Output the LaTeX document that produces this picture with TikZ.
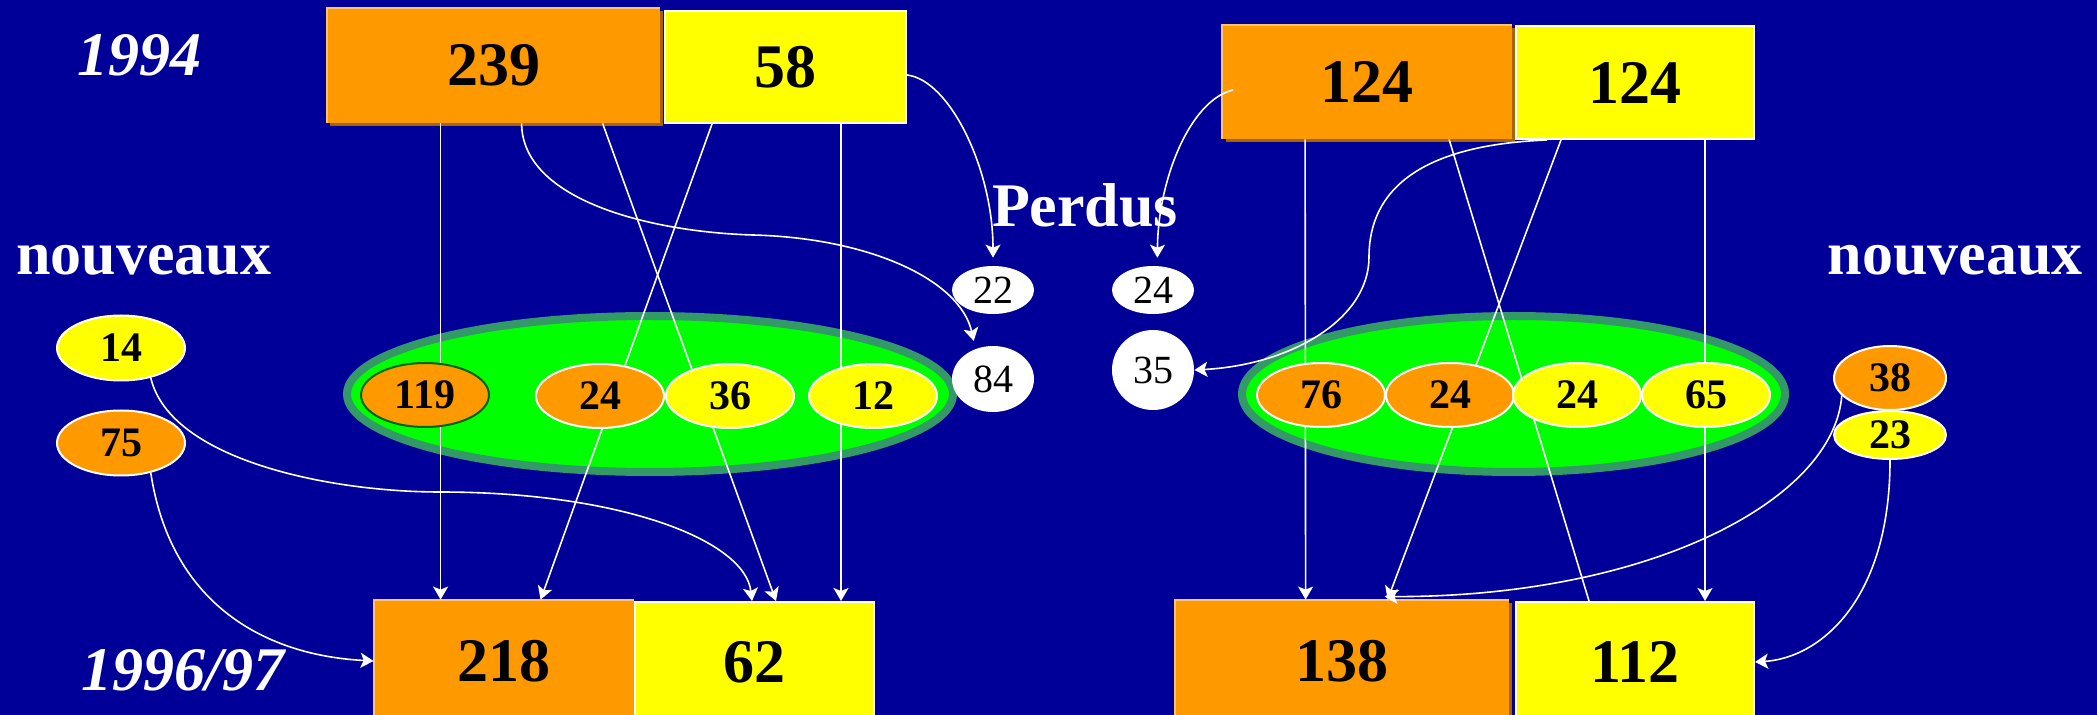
\documentclass[tikz,border=0pt]{standalone}
\usepackage{fontspec}
\setmainfont{Liberation Serif}
\usetikzlibrary{shapes.geometric,arrows.meta,calc,shadows}
\definecolor{bg}{HTML}{000099}
\definecolor{org}{HTML}{FF9900}
\definecolor{orgdark}{HTML}{A86400}
\definecolor{orglight}{HTML}{FFC466}
\definecolor{yel}{HTML}{FFFF00}
\definecolor{grn}{HTML}{00FF00}
\definecolor{grnedge}{HTML}{339966}
\definecolor{darkgrn}{HTML}{006600}
\begin{document}
\begin{tikzpicture}[x=0.5pt,y=-0.5pt,
  bignum/.style={font=\fontsize{31}{31}\selectfont\bfseries, text=black},
  obox/.style={rectangle, fill=org, inner sep=0pt, bignum,
     drop shadow={shadow xshift=1.5pt, shadow yshift=-1.5pt, fill=orgdark, opacity=1}},
  ybox/.style={rectangle, fill=yel, draw=white, line width=1pt, inner sep=0pt, bignum},
  gell/.style={ellipse, fill=grn, draw=grnedge, line width=4pt, inner sep=0pt},
  sell/.style={ellipse, inner sep=0pt, minimum width=64pt, minimum height=32pt,
     line width=1pt, draw=white, text=black, font=\fontsize{21}{21}\selectfont\bfseries},
  oell/.style={sell, fill=org},
  yell/.style={sell, fill=yel},
  well/.style={ellipse, inner sep=0pt, fill=white, text=black, minimum width=41pt,
     font=\fontsize{20}{20}\selectfont},
  lbl/.style={text=white, font=\fontsize{31}{31}\selectfont\bfseries, inner sep=0pt},
  ln/.style={draw=white, line width=0.8pt},
  arr/.style={ln, -{Stealth[length=6.5pt,width=7.5pt,inset=1.5pt]}},
  edgelight/.style={draw=orglight, line width=1pt}
]
\fill[bg] (0,0) rectangle (2097,715);
\useasboundingbox (0,0) rectangle (2097,715);
\clip (0,0) rectangle (2097,715);

% green groups
\node[gell, minimum width=303pt, minimum height=78pt] (gL) at (650,394) {};
\node[gell, minimum width=271.5pt, minimum height=78pt] (gR) at (1513.5,394) {};

% boxes
\node[obox, minimum width=166.5pt, minimum height=57.5pt] (b239) at (493.5,65.5) {239};
\node[ybox, minimum width=120.5pt, minimum height=56pt] (b58) at (785.5,67) {58};
\node[obox, minimum width=144.5pt, minimum height=57pt] (b124o) at (1367,82) {124};
\node[ybox, minimum width=119pt, minimum height=56.5pt] (b124y) at (1635,82.5) {124};
\node[obox, minimum width=130pt, minimum height=61pt] (b218) at (504,661) {218};
\node[ybox, minimum width=119.5pt, minimum height=60pt] (b62) at (754.5,662) {62};
\node[obox, minimum width=167pt, minimum height=61pt] (b138) at (1342,661) {138};
\node[ybox, minimum width=119pt, minimum height=60pt] (b112) at (1635,662) {112};
\foreach \b in {b239,b124o,b218,b138}{
  \draw[edgelight] (\b.south west) -- (\b.north west) -- (\b.north east);
}

% straight flows
\draw[arr] ($(b239.south west)+(114,0)$) -- ($(b218.north west)+(67,0)$);
\draw[arr] ($(b239.south west)+(276,0)$) -- ($(b62.north west)+(142,0)$);
\draw[arr] ($(b58.south west)+(48,0)$) -- ($(b218.north west)+(167,0)$);
\draw[arr] ($(b58.south west)+(177,0)$) -- ($(b62.north west)+(207,0)$);
\draw[arr] ($(b124o.south west)+(83,0)$) -- ($(b138.north west)+(131,0)$);
\draw[ln] ($(b124o.south west)+(227,0)$) -- ($(b112.north west)+(74,0)$);
\draw[arr] ($(b124y.south west)+(46,0)$) -- ($(b138.north west)+(213,0)$);
\draw[arr] ($(b124y.south west)+(190,0)$) -- ($(b112.north west)+(190,0)$);

% small ellipses
\node[oell, draw=darkgrn] (e119) at (425,395) {119};
\node[oell] (e24a) at (600,396) {24};
\node[yell] (e36) at (730,396) {36};
\node[yell] (e12) at (873,396) {12};
\node[oell] (e76) at (1321,395) {76};
\node[oell] (e24b) at (1450,395) {24};
\node[yell] (e24c) at (1577,395) {24};
\node[yell] (e65) at (1706,395) {65};
\node[yell, minimum height=32.5pt] (y14) at (121,348) {14};
\node[oell, minimum height=32.5pt] (o75) at (121,443) {75};
\node[oell, minimum width=56pt] (o38) at (1890,378) {38};
\node[yell, minimum width=56pt, minimum height=24pt] (y23) at (1890,435) {23};
\node[well, minimum height=24pt] (p22) at (993,290) {22};
\node[well, minimum height=24pt] (p24) at (1153,290) {24};
\node[well, minimum height=33pt] (p84) at (993,379) {84};
\node[well, minimum height=40pt] (p35) at (1153,370) {35};

% labels
\node[lbl, anchor=base] (t1994) at (139,76) {\itshape 1994};
\node[lbl, anchor=base] (t9697) at (183,690) {\itshape 1996/97};
\node[lbl, anchor=base] (nouvL) at (144,275) {nouveaux};
\node[lbl, anchor=base] (nouvR) at (1955,275) {nouveaux};
\node[lbl, anchor=base] (perdus) at (1085,227) {Perdus};

% curved flows
\coordinate (m1) at (753,235);
\coordinate (m2) at (1369,257);
\coordinate (m3) at (440,492);
\draw[arr, shorten >=4pt] ($(b239.south west)+(195,0)$) .. controls (522,200) and (650,232) .. (m1)
   .. controls (870,238) and (960,280) .. (p84.120);
\draw[arr, shorten >=4pt] ($(b58.east)+(0,8)$) .. controls (950,80) and (993,170) .. (p22.north);
\draw[arr, shorten >=4pt] ($(b124o.west)+(11,8)$) .. controls (1190,100) and (1158,180) .. (p24.80);
\draw[arr] ($(b124y.south west)+(32,0)$) .. controls (1420,145) and (1369,190) .. (m2)
   .. controls (1369,320) and (1290,365) .. (p35.east);
\draw[arr] (y14.-45) .. controls (170,460) and (330,492) .. (m3)
   .. controls (620,492) and (745,540) .. ($(b62.north west)+(118,0)$);
\draw[arr] (o75.-45) .. controls (170,600) and (260,655) .. (b218.west);
\draw[arr] (o38.-160) .. controls (1834,500) and (1650,597) .. ($(b138.north west)+(210,-3)$);
\draw[arr] (y23.south) .. controls (1890,600) and (1820,658) .. (b112.east);
\end{tikzpicture}
\end{document}
